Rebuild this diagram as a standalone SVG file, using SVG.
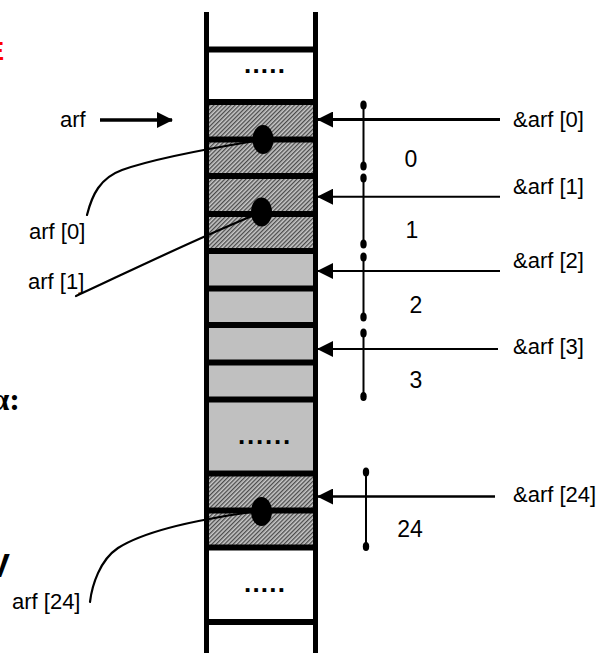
<svg xmlns="http://www.w3.org/2000/svg" width="606" height="653" viewBox="0 0 606 653">
  <style>
    .lbl { font-family: "Liberation Sans", Arial, sans-serif; font-size: 22px; fill: #000; }
    .num { font-family: "Liberation Sans", Arial, sans-serif; font-size: 23px; fill: #000; text-anchor: middle; }
    .dots { font-family: "Liberation Sans", Arial, sans-serif; font-size: 26px; font-weight: bold; fill: #000; }
    .wall { stroke: #000; stroke-width: 5; fill: none; }
    .bar { stroke: #000; stroke-width: 6; fill: none; }
    .ptr { stroke: #000; stroke-width: 2; fill: none; }
    .lead { stroke: #000; stroke-width: 2.2; fill: none; stroke-linecap: round; }
    .span { stroke: #000; stroke-width: 2; fill: none; }
    .tip { fill: #000; }
    .gray { fill: #c0c0c0; }
    .hatch { fill: url(#hatch); }
  </style>
  <defs>
    <pattern id="hatch" patternUnits="userSpaceOnUse" width="3" height="3" patternTransform="rotate(45)">
      <rect width="3" height="3" fill="#c8c8c8"/>
      <rect width="1.3" height="3" fill="#4a4a4a"/>
    </pattern>
    <marker id="head" viewBox="0 0 16 16" refX="15" refY="8" markerWidth="16" markerHeight="16" markerUnits="userSpaceOnUse" orient="auto">
      <path d="M0,0 L16,8 L0,16 Z" fill="#000"/>
    </marker>
  </defs>

  <!-- slide text running off the left edge -->
  <g id="edge-text">
    <text x="4" y="60" font-family="Liberation Sans, Arial, sans-serif" font-size="26" font-weight="bold" fill="#ff0000" text-anchor="end">E</text>
    <text x="20" y="410" font-family="Liberation Serif, Times New Roman, serif" font-size="32" font-weight="bold" fill="#000" text-anchor="end">α:</text>
    <text x="10" y="577" font-family="Liberation Sans, Arial, sans-serif" font-size="34" font-weight="bold" fill="#000" text-anchor="end">V</text>
  </g>

  <!-- memory column -->
  <g id="memory-column">
    <g id="cell-fills">
      <rect class="hatch" x="206" y="102" width="110" height="149"/>
      <rect class="gray" x="206" y="251" width="110" height="222.5"/>
      <rect class="hatch" x="206" y="473.5" width="110" height="74"/>
    </g>
    <g id="cell-bars">
      <line class="bar" x1="204" x2="318" y1="49.5" y2="49.5"/>
      <line class="bar" x1="204" x2="318" y1="102" y2="102"/>
      <line class="bar" x1="204" x2="318" y1="139.5" y2="139.5"/>
      <line class="bar" x1="204" x2="318" y1="176" y2="176"/>
      <line class="bar" x1="204" x2="318" y1="214" y2="214"/>
      <line class="bar" x1="204" x2="318" y1="251" y2="251"/>
      <line class="bar" x1="204" x2="318" y1="288.5" y2="288.5"/>
      <line class="bar" x1="204" x2="318" y1="325" y2="325"/>
      <line class="bar" x1="204" x2="318" y1="362.5" y2="362.5"/>
      <line class="bar" x1="204" x2="318" y1="399.5" y2="399.5"/>
      <line class="bar" x1="204" x2="318" y1="473.5" y2="473.5"/>
      <line class="bar" x1="204" x2="318" y1="510.5" y2="510.5"/>
      <line class="bar" x1="204" x2="318" y1="547.5" y2="547.5"/>
      <line class="bar" x1="204" x2="318" y1="622" y2="622"/>
    </g>
    <g id="cell-walls">
      <line class="wall" x1="206.5" x2="206.5" y1="12" y2="653"/>
      <line class="wall" x1="315.5" x2="315.5" y1="12" y2="653"/>
    </g>
    <g id="ellipsis-top"><text class="dots" x="244" y="73" letter-spacing="1.2">.....</text></g>
    <g id="ellipsis-mid"><text class="dots" x="238" y="444" letter-spacing="1.8">......</text></g>
    <g id="ellipsis-bottom"><text class="dots" x="244" y="592" letter-spacing="1.2">.....</text></g>
    <g id="elem-0"><ellipse cx="263" cy="139.5" rx="10.5" ry="14.5" fill="#000"/></g>
    <g id="elem-1"><ellipse cx="261.5" cy="212" rx="10.5" ry="14.5" fill="#000"/></g>
    <g id="elem-24"><ellipse cx="261.5" cy="511.5" rx="10.5" ry="14.5" fill="#000"/></g>
  </g>

  <!-- labels -->
  <g id="label-arf"><text class="lbl" x="60" y="127">arf</text></g>
  <g id="label-arf0"><text class="lbl" x="29" y="239">arf [0]</text></g>
  <g id="label-arf1"><text class="lbl" x="28" y="289">arf [1]</text></g>
  <g id="label-arf24"><text class="lbl" x="12" y="608.5">arf [24]</text></g>
  <g id="label-addr0"><text class="lbl" x="513" y="127">&amp;arf [0]</text></g>
  <g id="label-addr1"><text class="lbl" x="513" y="193.5">&amp;arf [1]</text></g>
  <g id="label-addr2"><text class="lbl" x="513" y="268">&amp;arf [2]</text></g>
  <g id="label-addr3"><text class="lbl" x="513" y="354">&amp;arf [3]</text></g>
  <g id="label-addr24"><text class="lbl" x="513" y="501.5">&amp;arf [24]</text></g>
  <g id="label-size0"><text class="num" x="411" y="167">0</text></g>
  <g id="label-size1"><text class="num" x="412" y="238">1</text></g>
  <g id="label-size2"><text class="num" x="416" y="313">2</text></g>
  <g id="label-size3"><text class="num" x="416" y="388">3</text></g>
  <g id="label-size24"><text class="num" x="410" y="537">24</text></g>

  <!-- connectors -->
  <g id="connectors">
    <!-- arf points at the first element -->
    <line x1="100" y1="120" x2="172" y2="120" stroke="#000" stroke-width="3.5" marker-end="url(#head)"/>
    <!-- address pointers -->
    <line x1="500" y1="119.5" x2="318" y2="119.5" stroke="#000" stroke-width="3.2" marker-end="url(#head)"/>
    <line class="ptr" x1="500" y1="196.7" x2="318" y2="196.7" marker-end="url(#head)"/>
    <line class="ptr" x1="500" y1="271" x2="318" y2="271" marker-end="url(#head)"/>
    <line class="ptr" x1="498" y1="349" x2="318" y2="349" marker-end="url(#head)"/>
    <line x1="495" y1="496.5" x2="318" y2="496.5" stroke="#000" stroke-width="2.4" marker-end="url(#head)"/>
    <!-- leader curves from element names -->
    <path class="lead" d="M87,215 C92,195 100,178 122,170 C150,160 200,150 255,141"/>
    <path class="lead" d="M76,296 C120,276 180,246 252,216"/>
    <path class="lead" d="M90,602 C92,585 100,560 118,548 C140,534 180,522 252,512"/>
    <!-- element size spans -->
    <g id="spans">
      <line class="span" x1="363.5" y1="105" x2="363.5" y2="166"/>
      <line class="span" x1="363.5" y1="178" x2="363.5" y2="244"/>
      <line class="span" x1="363.5" y1="257" x2="363.5" y2="317"/>
      <line class="span" x1="363.5" y1="333" x2="363.5" y2="396.5"/>
      <line class="span" x1="366" y1="472" x2="366" y2="546.5"/>
      <ellipse class="tip" cx="363.5" cy="105" rx="3.2" ry="4.5"/>
      <ellipse class="tip" cx="363.5" cy="166" rx="3.2" ry="4.5"/>
      <ellipse class="tip" cx="363.5" cy="178" rx="3.2" ry="4.5"/>
      <ellipse class="tip" cx="363.5" cy="244" rx="3.2" ry="4.5"/>
      <ellipse class="tip" cx="363.5" cy="257" rx="3.2" ry="4.5"/>
      <ellipse class="tip" cx="363.5" cy="317" rx="3.2" ry="4.5"/>
      <ellipse class="tip" cx="363.5" cy="333" rx="3.2" ry="4.5"/>
      <ellipse class="tip" cx="363.5" cy="396.5" rx="3.2" ry="4.5"/>
      <ellipse class="tip" cx="366" cy="472" rx="3.2" ry="4.5"/>
      <ellipse class="tip" cx="366" cy="546.5" rx="3.2" ry="4.5"/>
    </g>
  </g>
</svg>
